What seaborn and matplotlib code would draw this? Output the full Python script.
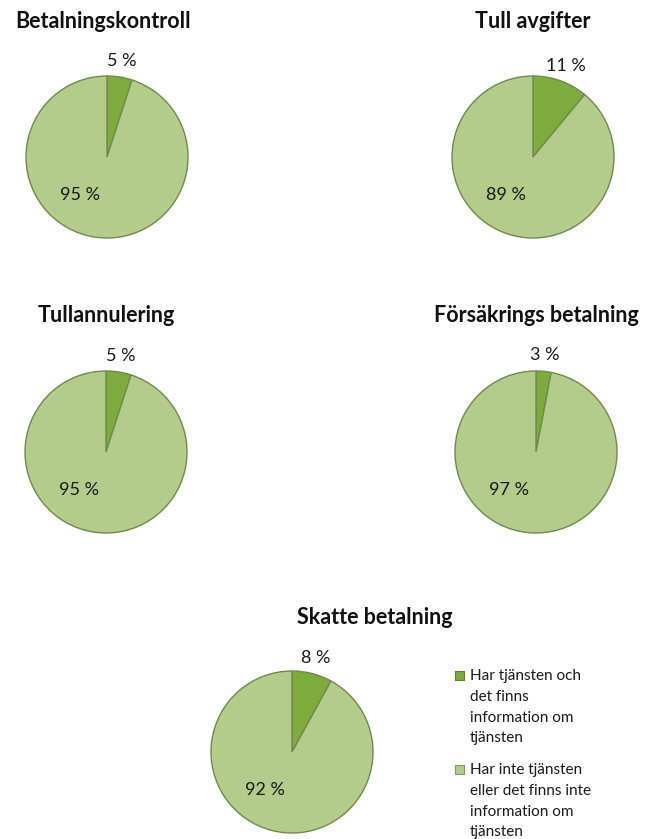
import matplotlib
matplotlib.use("Agg")
import matplotlib.pyplot as plt
import matplotlib.patches as mpatches
import numpy as np
import seaborn as sns

# chart data
titles = ["Betalningskontroll", "Tull avgifter", "Tullannulering",
          "Försäkrings betalning", "Skatte betalning"]
har_tjansten = [5, 11, 5, 3, 8]
har_inte = [95, 89, 95, 97, 92]
legend_labels = ["Har tjänsten och\ndet finns\ninformation om\ntjänsten",
                 "Har inte tjänsten\neller det finns inte\ninformation om\ntjänsten"]

sns.set_theme(style="white")
plt.rcParams['font.family'] = ['Lato', 'DejaVu Sans']

colors = ["#7dab3d", "#b3cb8b"]
edges = ["#5f7f33", "#7f9a5c"]

W, H = 646, 839
fig = plt.figure(figsize=(W / 100, H / 100), dpi=100)

# pixel layout: pie centre, radius, title centre
R = 81
centres = [(107, 157), (533, 157), (106, 452), (536, 452), (292, 752)]
title_pos = [(103, 21), (533, 21), (106, 316), (536, 316), (375, 618)]

for i, title in enumerate(titles):
    cx, cy = centres[i]
    ax = fig.add_axes([(cx - R) / W, 1 - (cy + R) / H, 2 * R / W, 2 * R / H])
    vals = [har_tjansten[i], har_inte[i]]
    wedges, _ = ax.pie(vals, colors=colors, startangle=90, counterclock=False,
                       radius=1, wedgeprops=dict(edgecolor="#6f8a4c", linewidth=1.0))
    ax.set_xlim(-1, 1)
    ax.set_ylim(-1, 1)
    ax.set_aspect("equal")
    ax.axis("off")
    # small slice label outside, along the middle of the slice
    w = wedges[0]
    mid = np.deg2rad((w.theta1 + w.theta2) / 2)
    ax.text(1.2 * np.cos(mid), 1.2 * np.sin(mid), f"{vals[0]} %",
            ha="center", va="center", fontsize=13, color="#1a1a1a", clip_on=False)
    # large slice label inside, best-fit style
    ax.text(-0.33, -0.47, f"{vals[1]} %", ha="center", va="center",
            fontsize=13, color="#1a1a1a", clip_on=False)
    tx, ty = title_pos[i]
    fig.text(tx / W, 1 - ty / H, title, ha="center", va="center",
             fontsize=15.5, fontweight="bold", color="#111111")

# legend drawn by hand so the square sits on the first line
leg_y = [669, 763]
for k, lab in enumerate(legend_labels):
    y0 = leg_y[k]
    fig.add_artist(mpatches.Rectangle((455 / W, 1 - (y0 + 11) / H), 9 / W, 9 / H,
                                      transform=fig.transFigure,
                                      facecolor=colors[k], edgecolor=edges[k], lw=0.8))
    fig.text(470 / W, 1 - y0 / H, lab, ha="left", va="top", fontsize=11,
             color="#1a1a1a", linespacing=1.62)

fig.savefig("out.png", dpi=100)
